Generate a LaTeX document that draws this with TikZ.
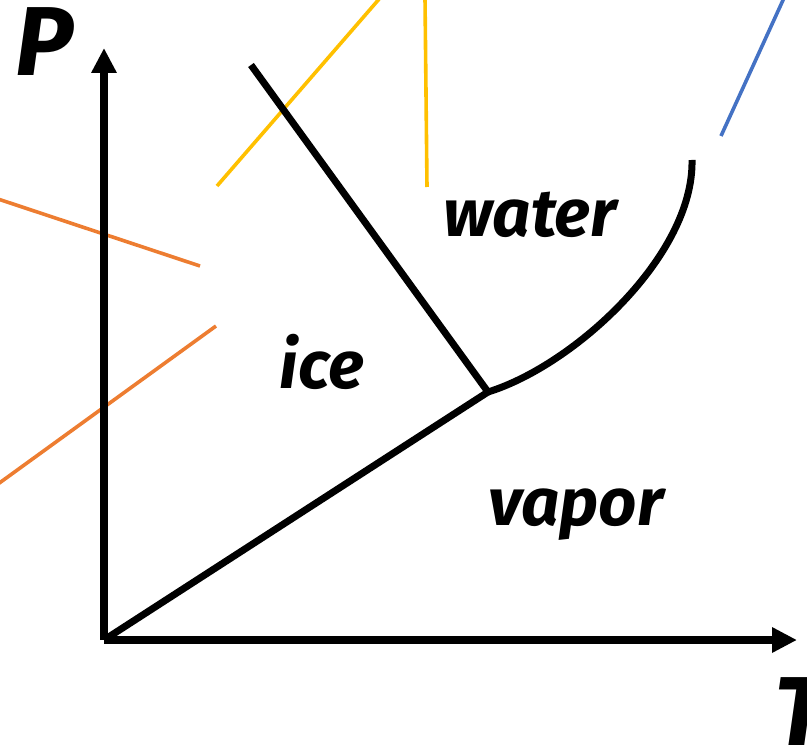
\documentclass[tikz,border=0pt]{standalone}
\usepackage{fontspec}
\setmainfont{Fira Sans}
\usetikzlibrary{arrows.meta}
\definecolor{orng}{HTML}{ED7D31}
\definecolor{yllw}{HTML}{FFC000}
\definecolor{blu}{HTML}{4472C4}
\tikzset{
  axisline/.style={line width=7.5pt,-{Triangle[length=25pt,width=24pt]}},
  phaseline/.style={line width=7pt},
  guide/.style={line width=3.6pt},
  biglabel/.style={font=\fontsize{98}{98}\selectfont\bfseries\itshape, inner sep=0pt},
  phaselabel/.style={font=\fontsize{67}{67}\selectfont\bfseries\itshape, inner sep=0pt}
}
\begin{document}
\begin{tikzpicture}[x=1pt,y=-1pt]
\useasboundingbox (0,0) rectangle (807,749);
% coordinates
\coordinate (O) at (104,640);
\coordinate (Ptip) at (104,48);
\coordinate (Ttip) at (797,640);
\coordinate (TP) at (488,392);
\coordinate (MeltTop) at (251,65);
\coordinate (CrTop) at (692,160);
\coordinate (y1a) at (217,186);
\coordinate (y1b) at (380,-2);
\coordinate (y2a) at (427,187);
\coordinate (y2b) at (425,-2);
\coordinate (b1a) at (721,136);
\coordinate (b1b) at (784,-2);
\coordinate (o1a) at (-2,199);
\coordinate (o1b) at (200,266);
\coordinate (o2a) at (-2,484);
\coordinate (o2b) at (216,326);
% guides
\draw[guide, yllw] (y1a) -- (y1b);
\draw[guide, yllw] (y2a) -- (y2b);
\draw[guide, blu] (b1a) -- (b1b);
\draw[guide, orng] (o1a) -- (o1b);
\draw[guide, orng] (o2a) -- (o2b);
% axes
\draw[axisline] (O) -- (Ptip);
\draw[axisline] (O) -- (Ttip);
% phase boundaries
\draw[phaseline] (O) -- (TP);
\draw[phaseline] (TP) -- (MeltTop);
\draw[phaseline] (TP) .. controls (575,365) and (694,255) .. (CrTop);
% labels
\node[biglabel] (P) at (44,42) {P};
\node[biglabel] (T) at (800,712) {T};
\node[phaselabel] (water) at (530,215) {water};
\node[phaselabel] (ice) at (322,362) {ice};
\node[phaselabel] (vapor) at (576,515) {vapor};
\end{tikzpicture}
\end{document}
